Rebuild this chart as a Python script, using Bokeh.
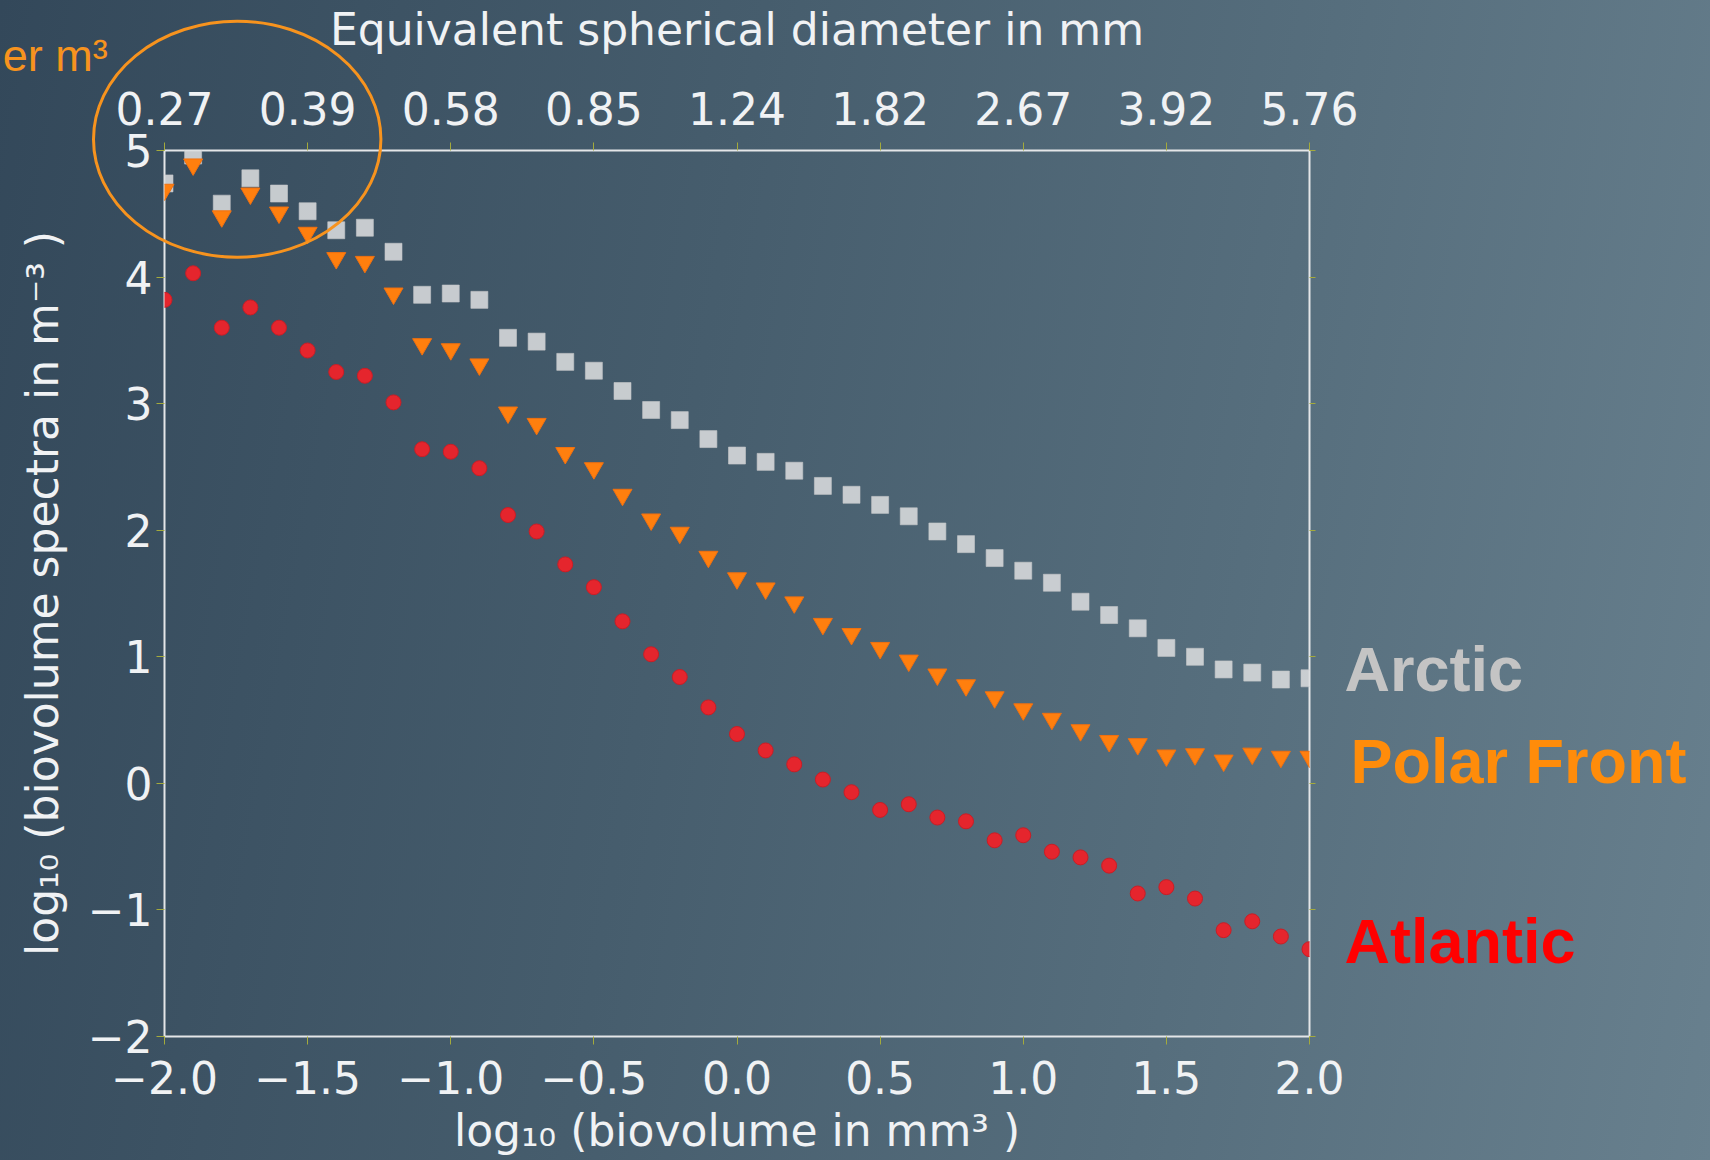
from bokeh.plotting import figure
from bokeh.models import LinearAxis, FixedTicker, Range1d, ColumnDataSource, GridBox
from bokeh.core.properties import value
from bokeh.embed import file_html
from bokeh.resources import INLINE

# ---- data ----
log_biovolume = [-2.0, -1.9, -1.8, -1.7, -1.6, -1.5, -1.4, -1.3, -1.2, -1.1, -1.0,
                 -0.9, -0.8, -0.7, -0.6, -0.5, -0.4, -0.3, -0.2, -0.1, 0.0,
                 0.1, 0.2, 0.3, 0.4, 0.5, 0.6, 0.7, 0.8, 0.9, 1.0,
                 1.1, 1.2, 1.3, 1.4, 1.5, 1.6, 1.7, 1.8, 1.9, 2.0]
arctic = [4.74, 4.96, 4.58, 4.78, 4.66, 4.52, 4.37, 4.39, 4.20, 3.86, 3.87,
          3.82, 3.52, 3.49, 3.33, 3.26, 3.10, 2.95, 2.87, 2.72, 2.59,
          2.54, 2.47, 2.35, 2.28, 2.20, 2.11, 1.99, 1.89, 1.78, 1.68,
          1.585, 1.435, 1.33, 1.225, 1.07, 1.00, 0.90, 0.875, 0.82, 0.83]
polar_front = [4.69, 4.89, 4.48, 4.66, 4.51, 4.35, 4.15, 4.12, 3.87, 3.47, 3.43,
               3.31, 2.93, 2.84, 2.61, 2.49, 2.28, 2.085, 1.98, 1.79, 1.62,
               1.54, 1.43, 1.26, 1.18, 1.07, 0.97, 0.86, 0.775, 0.68, 0.585,
               0.51, 0.42, 0.335, 0.31, 0.22, 0.23, 0.18, 0.235, 0.21, 0.21]
atlantic = [3.82, 4.03, 3.60, 3.76, 3.60, 3.42, 3.25, 3.22, 3.01, 2.64, 2.62,
            2.49, 2.12, 1.99, 1.73, 1.55, 1.28, 1.02, 0.84, 0.60, 0.39,
            0.26, 0.15, 0.03, -0.07, -0.21, -0.165, -0.27, -0.30, -0.45, -0.41,
            -0.54, -0.585, -0.65, -0.87, -0.82, -0.91, -1.16, -1.09, -1.21, -1.31]

x_ticks = [-2.0, -1.5, -1.0, -0.5, 0.0, 0.5, 1.0, 1.5, 2.0]
x_tick_labels = ["\u22122.0", "\u22121.5", "\u22121.0", "\u22120.5", "0.0", "0.5", "1.0", "1.5", "2.0"]
esd_tick_labels = ["0.27", "0.39", "0.58", "0.85", "1.24", "1.82", "2.67", "3.92", "5.76"]
y_ticks = [-2, -1, 0, 1, 2, 3, 4, 5]
y_tick_labels = ["\u22122", "\u22121", "0", "1", "2", "3", "4", "5"]

series_names = ["Arctic", "Polar Front", "Atlantic"]
series_colors = ["#c4c4c4", "#ff8c0a", "#ff0000"]
label_x = [2.122, 2.143, 2.122]
label_y = [0.90, 0.178, -1.243]

# ---- geometry / styling ----
W, H = 1710, 1160
B_LEFT, B_RIGHT, B_TOP, B_BOTTOM = 164, 401, 149, 124
X0, X1, Y0, Y1 = -2.0, 2.0, -2.0, 5.0
spine = "#e4e6e8"
tick_col = "#a4aa3c"
txt_col = "#f0f2f4"
orange = "#f7931e"

p = figure(width=W, height=H,
           x_range=Range1d(X0, X1), y_range=Range1d(Y0, Y1),
           output_backend="svg", toolbar_location=None,
           x_axis_location=None, y_axis_location=None,
           min_border_left=B_LEFT, min_border_right=B_RIGHT,
           min_border_top=B_TOP, min_border_bottom=B_BOTTOM)
p.frame_align = False
p.background_fill_alpha = 0
p.border_fill_alpha = 0
p.outline_line_color = spine
p.outline_line_width = 2
p.grid.visible = False

bottom = LinearAxis()
top = LinearAxis()
left = LinearAxis()
right = LinearAxis()
p.add_layout(bottom, "below")
p.add_layout(top, "above")
p.add_layout(left, "left")
p.add_layout(right, "right")

for ax in [bottom, left, top, right]:
    ax.axis_line_color = None
    ax.major_tick_line_color = tick_col
    ax.major_tick_line_width = 1
    ax.major_tick_out = 8
    ax.major_tick_in = 0
    ax.minor_tick_line_color = None
    ax.major_label_text_font = "DejaVu Sans"
    ax.major_label_text_font_size = "44px"
    ax.major_label_text_color = txt_col
    ax.axis_label_text_font = "DejaVu Sans"
    ax.axis_label_text_font_size = "44px"
    ax.axis_label_text_font_style = "normal"
    ax.axis_label_text_color = txt_col

bottom.ticker = FixedTicker(ticks=x_ticks)
bottom.major_label_overrides = dict(zip(x_ticks, x_tick_labels))
bottom.major_label_standoff = 16
bottom.axis_label = "log\u2081\u2080 (biovolume in mm\u00b3 )"
bottom.axis_label_standoff = 8

top.ticker = FixedTicker(ticks=x_ticks)
top.major_label_overrides = dict(zip(x_ticks, esd_tick_labels))
top.major_label_standoff = 18
top.axis_label = "Equivalent spherical diameter in mm"
top.axis_label_standoff = 34

left.ticker = FixedTicker(ticks=y_ticks)
left.major_label_overrides = dict(zip(y_ticks, y_tick_labels))
left.major_label_standoff = 4
left.axis_label = "log\u2081\u2080 (biovolume spectra in m\u207b\u00b3 )"
left.axis_label_standoff = 17

right.ticker = FixedTicker(ticks=y_ticks)
right.major_label_overrides = {t: "" for t in y_ticks}
right.major_tick_out = 6

src = ColumnDataSource(dict(x=log_biovolume, arctic=arctic, polar=polar_front, atlantic=atlantic))
p.scatter("x", "arctic", source=src, marker="square", size=17,
          fill_color="#d6d8da", fill_alpha=0.9, line_color="#c4c6c8", line_alpha=0.6)
p.scatter("x", "polar", source=src, marker="inverted_triangle", size=19,
          fill_color="#ff7f0e", line_color="#f07010", line_width=1)
p.scatter("x", "atlantic", source=src, marker="circle", size=15,
          fill_color="#e5252d", line_color="#c81e26", line_width=1)

# ---- transparent overlay with the same data mapping, spanning the whole page ----
px_per_x = (W - B_LEFT - B_RIGHT) / (X1 - X0)
px_per_y = (H - B_TOP - B_BOTTOM) / (Y1 - Y0)
ov = figure(width=W, height=H,
            x_range=Range1d(X0 - B_LEFT / px_per_x, X1 + B_RIGHT / px_per_x),
            y_range=Range1d(Y0 - B_BOTTOM / px_per_y, Y1 + B_TOP / px_per_y),
            output_backend="svg", toolbar_location=None,
            x_axis_location=None, y_axis_location=None, min_border=0)
ov.frame_align = False
ov.background_fill_alpha = 0
ov.border_fill_alpha = 0
ov.outline_line_color = None
ov.grid.visible = False

lab_src = ColumnDataSource(dict(x=label_x, y=label_y, text=series_names, color=series_colors))
ov.text(x="x", y="y", text="text", source=lab_src, text_color="color",
        text_font=value("Liberation Sans"), text_font_style="bold",
        text_font_size="63px", text_baseline="middle", text_align="left")

ov.text(x=[-2.565], y=[5.74], text=["er m\u00b3"], text_color=orange,
        text_font=value("Liberation Sans"), text_font_size="45px",
        text_baseline="alphabetic", text_align="left")

# orange ellipse highlighting the smallest size classes
ov.ellipse(x=[-1.746], y=[5.081], width=[1.004], height=[1.862],
           fill_alpha=0, line_color=orange, line_width=3)

grid = GridBox(children=[(p, 0, 0), (ov, 0, 0)])
grid.styles = {"background": "linear-gradient(100deg, #33485a 0%, #465d6d 40%, #566e7d 70%, #68808e 100%)"}

open("out.html", "w").write(file_html(grid, INLINE))
